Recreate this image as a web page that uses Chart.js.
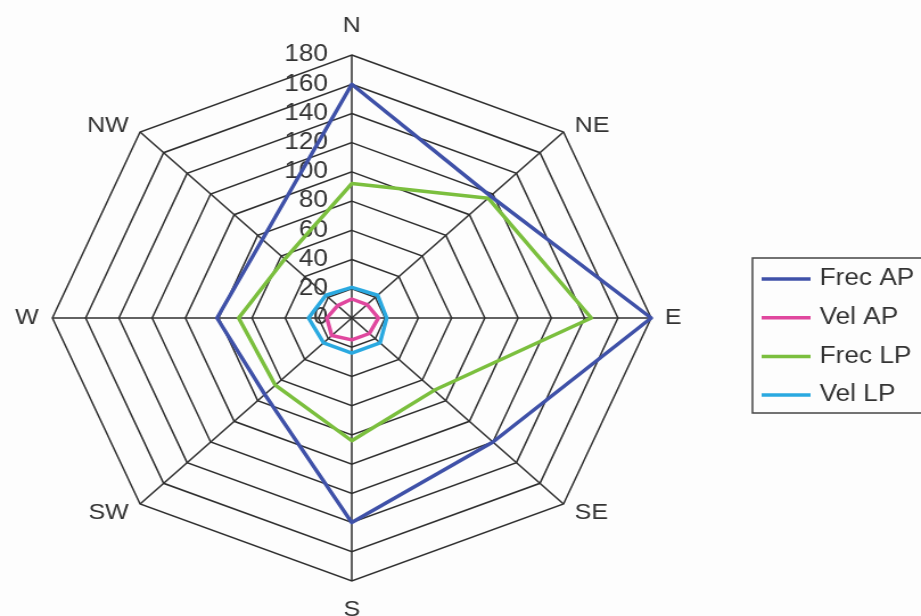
<!DOCTYPE html>
<html>
<head>
<meta charset="utf-8">
<script src="https://cdn.jsdelivr.net/npm/chart.js@4/dist/chart.umd.min.js"></script>
<style>
  html, body { margin: 0; padding: 0; background: #fdfdfd; overflow: hidden; }
  /* the scanned original is stretched sideways, so the whole chart is too */
  #wrap { width: 809px; height: 616px; transform-origin: 0 0; transform: scaleX(1.1384); }
</style>
</head>
<body>
<div id="wrap"><canvas id="rose" width="809" height="616"></canvas></div>
<script>
const directions = ["N", "NE", "E", "SE", "S", "SW", "W", "NW"];
const frecAP = [160, 118, 180, 120, 140, 74, 81, 76];
const velAP  = [13, 13, 16, 15, 15, 17, 15, 12];
const frecLP = [92, 116, 144, 70, 84, 65, 68, 57];
const velLP  = [21, 22, 21, 24, 24, 24, 26, 22];
const tickValues = [0, 20, 40, 60, 80, 100, 120, 140, 160, 180];

const textColor = "#333";
const font = "'Liberation Sans', Arial, sans-serif";

// tick numbers and compass labels, placed like Excel does it
const roseText = {
  id: "roseText",
  beforeDatasetsDraw(chart) {
    const r = chart.scales.r;
    const ctx = chart.ctx;
    ctx.save();
    ctx.fillStyle = textColor;
    ctx.textBaseline = "middle";

    ctx.font = "23px " + font;
    ctx.textAlign = "right";
    r.ticks.forEach(t => {
      ctx.fillText(String(t.value), r.xCenter - 21, r.yCenter - r.getDistanceFromCenterForValue(t.value));
    });

    ctx.font = "22px " + font;
    chart.data.labels.forEach((lab, i) => {
      const a = r.getIndexAngle(i);
      const s = Math.sin(a), c = Math.cos(a);
      const side = Math.abs(s) < 0.01 ? 0 : Math.sign(s);
      const diag = side !== 0 && Math.abs(c) > 0.1;
      const gap = side === 0 ? 29 : (diag ? 14 : 12);
      const p = r.getPointPosition(i, r.drawingArea + gap);
      let dy = 0;
      if (diag) dy = c > 0 ? 4 : -1;
      ctx.textAlign = side === 0 ? "center" : (side > 0 ? "left" : "right");
      ctx.fillText(lab, p.x, p.y + dy);
    });
    ctx.restore();
  },
  afterDraw(chart) {
    // boxed legend on the right, cut by the page edge
    const ctx = chart.ctx;
    ctx.save();
    ctx.strokeStyle = "#444";
    ctx.lineWidth = 1.5;
    ctx.strokeRect(661, 258, 220, 155);
    ctx.font = "23px " + font;
    ctx.textAlign = "left";
    ctx.textBaseline = "middle";
    chart.data.datasets.forEach((ds, i) => {
      const y = 279 + i * 38.7;
      ctx.strokeStyle = ds.borderColor;
      ctx.lineWidth = 3.5;
      ctx.beginPath();
      ctx.moveTo(669, y);
      ctx.lineTo(712, y);
      ctx.stroke();
      ctx.fillStyle = textColor;
      ctx.fillText(ds.label, 720, y);
    });
    ctx.restore();
  }
};

function lineSet(label, data, color) {
  return {
    label,
    data,
    borderColor: color,
    backgroundColor: color,
    borderWidth: 3.5,
    borderJoinStyle: "round",
    fill: false,
    pointRadius: 0
  };
}

new Chart(document.getElementById("rose").getContext("2d"), {
  type: "radar",
  data: {
    labels: directions,
    datasets: [
      lineSet("Frec AP", frecAP, "#3f51a8"),
      lineSet("Vel AP", velAP, "#e0479e"),
      lineSet("Frec LP", frecLP, "#7bbf3e"),
      lineSet("Vel LP", velLP, "#2aa9e0")
    ]
  },
  options: {
    responsive: false,
    animation: false,
    layout: { padding: { top: 55, bottom: 34, left: 46, right: 236 } },
    plugins: { legend: { display: false }, tooltip: { enabled: false } },
    scales: {
      r: {
        min: 0,
        max: 180,
        afterBuildTicks: s => { s.ticks = tickValues.map(v => ({ value: v })); },
        ticks: { display: false },
        pointLabels: { display: false },
        grid: { color: "#2e2e2e", lineWidth: 1.5 },
        angleLines: { color: "#2e2e2e", lineWidth: 1.5 }
      }
    }
  },
  plugins: [roseText]
});
</script>
</body>
</html>
